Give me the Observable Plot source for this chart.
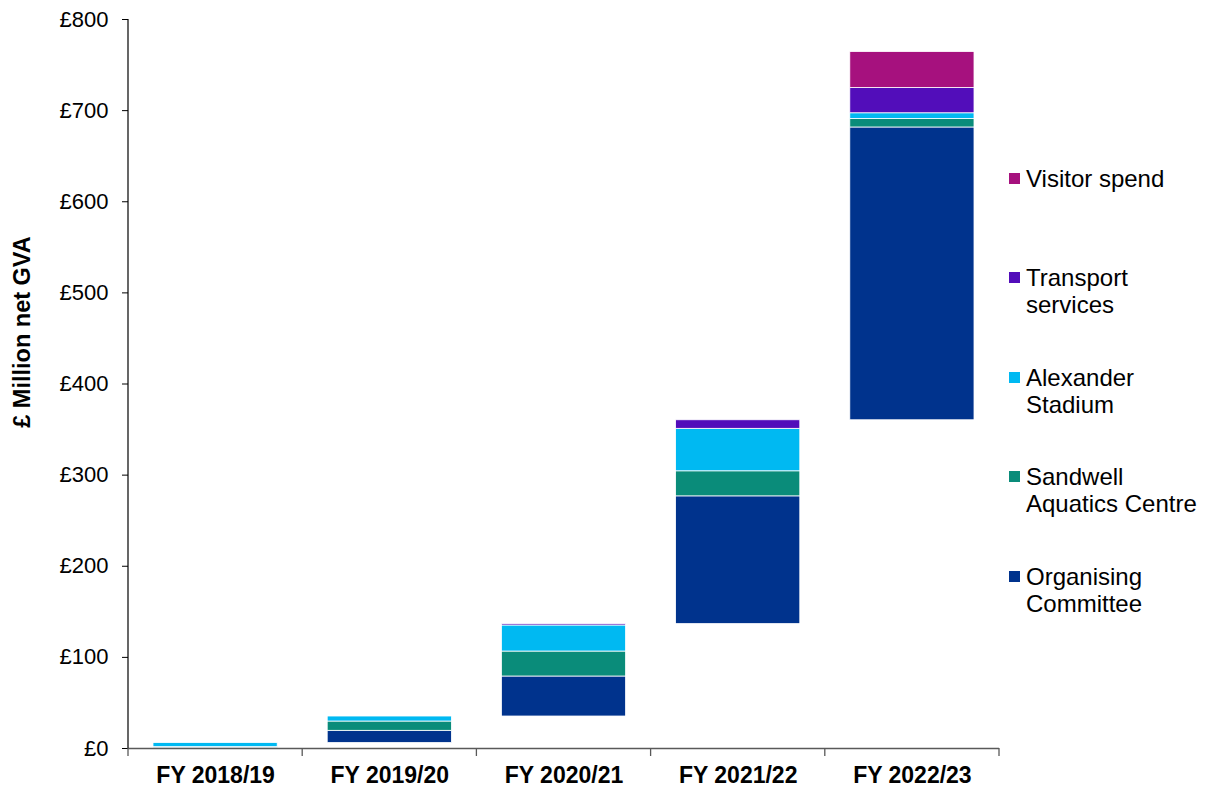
<!DOCTYPE html>
<html><head><meta charset="utf-8">
<script src="https://cdn.jsdelivr.net/npm/d3@7"></script>
<script src="https://cdn.jsdelivr.net/npm/@observablehq/plot@0.6"></script>
<style>
body{margin:0;background:#fff;font-family:"Liberation Sans",Arial,sans-serif;}
#wrap{position:relative;width:1205px;height:790px;overflow:hidden;}
.leg{position:absolute;left:1009px;font-size:24px;line-height:27px;color:#000;white-space:nowrap;}
.leg .sw{position:absolute;left:0;top:8px;width:11px;height:11px;}
.leg .tx{margin-left:17px;}
</style></head><body><div id="wrap"></div>
<script>
const categories = ["FY 2018/19", "FY 2019/20", "FY 2020/21", "FY 2021/22", "FY 2022/23"];
const seriesNames = ["Organising Committee", "Sandwell Aquatics Centre", "Alexander Stadium", "Transport services", "Visitor spend"];
const organisingCommittee = [1, 13.4, 43.9, 140.2, 321.3];
const sandwellAquatics = [0.5, 10.2, 27.4, 27.5, 9.3];
const alexanderStadium = [4.5, 5.5, 28.6, 46.6, 6.3];
const transportServices = [0, 0, 1.5, 9.4, 27.7];
const visitorSpend = [0, 0, 0, 0, 39.5];
const seriesColors = ["#00338D", "#0A8C7A", "#00B9F2", "#520DBA", "#A6117E"];
const yTicks = [0, 100, 200, 300, 400, 500, 600, 700, 800];
const legendOrder = ["Visitor spend", "Transport services", "Alexander Stadium", "Sandwell Aquatics Centre", "Organising Committee"];
const legendLines = [["Visitor spend"], ["Transport", "services"], ["Alexander", "Stadium"], ["Sandwell", "Aquatics Centre"], ["Organising", "Committee"]];

const seriesValues = [organisingCommittee, sandwellAquatics, alexanderStadium, transportServices, visitorSpend];

// waterfall: each year starts where the previous cumulative total ended
const rows = [];
let running = 0;
categories.forEach((cat, i) => {
  let base = running;
  seriesValues.forEach((vals, s) => {
    const v = vals[i];
    if (v > 0) {
      rows.push({category: cat, series: seriesNames[s], y1: base, y2: base + v});
      base += v;
    }
  });
  running = base;
});

const chart = Plot.plot({
  width: 1205,
  height: 790,
  marginLeft: 128,
  marginRight: 206,
  marginTop: 19,
  marginBottom: 42,
  style: {fontFamily: "'Liberation Sans', Arial, sans-serif", color: "#000", background: "white", overflow: "visible"},
  x: {domain: categories, paddingInner: 0.287, paddingOuter: 0.1435, align: 0.5, round: false, label: null},
  y: {domain: [0, 800], label: null},
  color: {domain: seriesNames, range: seriesColors},
  marks: [
    Plot.barY(rows, {x: "category", y1: "y1", y2: "y2", fill: "series", stroke: "white", strokeWidth: 0.8}),
    Plot.axisY({ticks: yTicks, tickFormat: d => "£" + d, tickSize: 6, tickPadding: 14, fontSize: 22, label: null, stroke: "#000"}),
    Plot.axisX({tickSize: 0, tickPadding: 18, fontWeight: "bold", fontSize: 23, label: null}),
    Plot.ruleY([0], {stroke: "#595959", strokeWidth: 1.3})
  ]
});

// y-axis line, x-axis boundary ticks, y title — positioned via the chart's scales
const xs = chart.scale("x"), ys = chart.scale("y");
const svg = d3.select(chart);
const x0 = xs.range[0];
svg.append("line").attr("x1", x0).attr("x2", x0).attr("y1", ys.apply(800)).attr("y2", ys.apply(0))
  .attr("stroke", "#000").attr("stroke-width", 1.2);
const bounds = categories.map(c => xs.apply(c) + xs.bandwidth / 2 - xs.step / 2);
bounds.push(bounds[bounds.length - 1] + xs.step);
bounds.forEach(b => {
  svg.append("line").attr("x1", b).attr("x2", b).attr("y1", ys.apply(0)).attr("y2", ys.apply(0) + 8)
    .attr("stroke", "#595959").attr("stroke-width", 1.3);
});
svg.append("text").attr("transform", "translate(30,332) rotate(-90)")
  .attr("text-anchor", "middle").attr("font-weight", "bold").attr("font-size", 23.5)
  .attr("font-family", "'Liberation Sans', Arial, sans-serif").attr("fill", "#000")
  .text("£ Million net GVA");

const wrap = document.getElementById("wrap");
wrap.appendChild(chart);

const legendTops = [164.5, 263.5, 363.5, 462.5, 562.5];
legendOrder.forEach((name, i) => {
  const d = document.createElement("div");
  d.className = "leg";
  d.style.top = legendTops[i] + "px";
  const sw = document.createElement("div");
  sw.className = "sw";
  sw.style.background = seriesColors[seriesNames.indexOf(name)];
  d.appendChild(sw);
  const tx = document.createElement("div");
  tx.className = "tx";
  tx.innerHTML = legendLines[i].join("<br>");
  d.appendChild(tx);
  wrap.appendChild(d);
});
</script>
</body></html>
